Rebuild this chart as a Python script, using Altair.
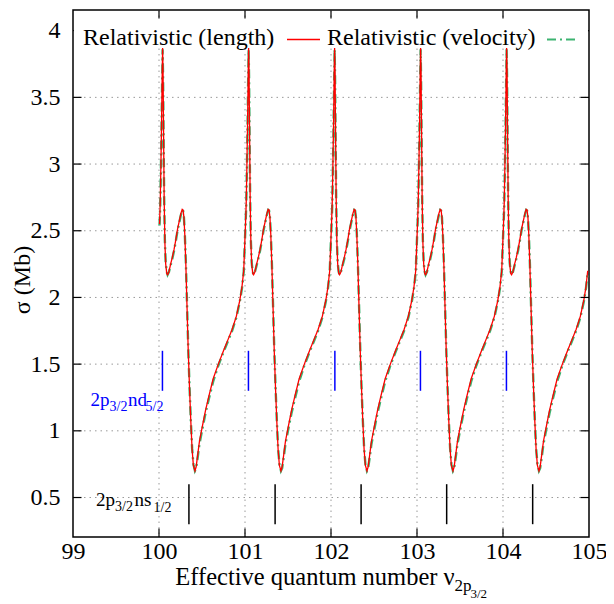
import altair as alt
import pandas as pd

FONT = "Liberation Serif"

# ---------------- data ----------------
# The resonance pattern repeats once per unit of the effective quantum number.
CYCLE_START = [100, 101, 102, 103, 104]
PHASE = [0.006, 0.014, 0.022, 0.030, 0.037, 0.042, 0.047, 0.053, 0.060, 0.068,
         0.078, 0.090, 0.100, 0.115, 0.135, 0.155, 0.175, 0.195, 0.215, 0.235,
         0.255, 0.270, 0.280, 0.290, 0.300, 0.312, 0.325, 0.340, 0.355, 0.370,
         0.385, 0.400, 0.418, 0.432, 0.450, 0.470, 0.500, 0.540, 0.580, 0.630,
         0.690, 0.750, 0.800, 0.850, 0.900, 0.940, 0.965, 0.985]
SIGMA_LENGTH = [2.55, 2.70, 2.98, 3.32, 3.66, 3.87, 3.68, 3.25, 2.75, 2.42,
                2.25, 2.18, 2.17, 2.19, 2.25, 2.30, 2.36, 2.43, 2.51, 2.57,
                2.63, 2.66, 2.655, 2.60, 2.47, 2.25, 1.95, 1.60, 1.32, 1.07,
                0.86, 0.74, 0.70, 0.73, 0.82, 0.92, 1.02, 1.15, 1.26, 1.39,
                1.50, 1.60, 1.68, 1.76, 1.86, 1.98, 2.08, 2.20]
SIGMA_VELOCITY = [2.54, 2.68, 2.96, 3.30, 3.64, 3.86, 3.67, 3.24, 2.75, 2.43,
                  2.26, 2.19, 2.17, 2.19, 2.24, 2.29, 2.35, 2.42, 2.50, 2.56,
                  2.62, 2.655, 2.65, 2.60, 2.48, 2.27, 1.97, 1.62, 1.33, 1.08,
                  0.87, 0.75, 0.70, 0.72, 0.80, 0.90, 1.00, 1.13, 1.24, 1.37,
                  1.49, 1.59, 1.67, 1.75, 1.85, 1.97, 2.07, 2.19]

ND52_POS = [100.04, 101.04, 102.045, 103.04, 104.04]   # blue 2p3/2 nd5/2 markers
ND52_SPAN = [1.30, 1.60]
NS12_POS = [100.348, 101.35, 102.35, 103.345, 104.345]  # black 2p3/2 ns1/2 markers
NS12_SPAN = [0.30, 0.60]

X_TICKS = [99, 100, 101, 102, 103, 104, 105]
Y_TICKS = [0.5, 1, 1.5, 2, 2.5, 3, 3.5, 4]
X_GRID = [100, 101, 102, 103, 104]
Y_GRID = [0.5, 1, 1.5, 2, 2.5, 3, 3.5, 4]
Y_DOMAIN = [0.204, 4.155]
X_DOMAIN = [99, 105]

# ---------------- tables ----------------
rows = []
for n in CYCLE_START:
    for p, sl, sv in zip(PHASE, SIGMA_LENGTH, SIGMA_VELOCITY):
        rows.append({"nu": n + p, "length": sl, "velocity": sv})
curve = pd.DataFrame(rows)

nd = pd.DataFrame({"nu": ND52_POS, "lo": ND52_SPAN[0], "hi": ND52_SPAN[1]})
ns = pd.DataFrame({"nu": NS12_POS, "lo": NS12_SPAN[0], "hi": NS12_SPAN[1]})
xg = pd.DataFrame({"nu": X_GRID})
yg = pd.DataFrame({"s": Y_GRID})
ONE = pd.DataFrame({"k": [0]})

W, H = 516, 527
xs = alt.Scale(domain=X_DOMAIN, nice=False, zero=False)
ys = alt.Scale(domain=Y_DOMAIN, nice=False, zero=False)

X_AXIS = alt.Axis(values=X_TICKS, format="d", title=None, grid=False, ticks=False,
                  tickSize=0, domain=False, labelFont=FONT, labelFontSize=24,
                  labelColor="black", labelPadding=21, labelBaseline="alphabetic",
                  labelFlush=False, labelOverlap=False)
Y_AXIS = alt.Axis(values=Y_TICKS, format="~g", title=None, grid=False, ticks=False,
                  tickSize=0, domain=False, labelFont=FONT, labelFontSize=24,
                  labelColor="black", labelPadding=13, labelFlush=False,
                  labelOverlap=False)


def X(field):
    return alt.X(field, scale=xs, axis=X_AXIS)


def Y(field):
    return alt.Y(field, scale=ys, axis=Y_AXIS)


GRID_STYLE = dict(color="#9a9a9a", strokeWidth=1, strokeDash=[1.5, 4])

grid_x = alt.Chart(xg).mark_rule(**GRID_STYLE).encode(
    x=X("nu:Q"), y=alt.value(0), y2=alt.value(H))
grid_y = alt.Chart(yg).mark_rule(**GRID_STYLE).encode(
    y=Y("s:Q"), x=alt.value(0), x2=alt.value(W))

vel = alt.Chart(curve).mark_line(color="#3cb371", strokeWidth=2.4,
                                 strokeDash=[9, 4, 2, 4], clip=True).encode(
    x=X("nu:Q"), y=Y("velocity:Q"))
leng = alt.Chart(curve).mark_line(color="#ff0000", strokeWidth=1.3, clip=True).encode(
    x=X("nu:Q"), y=Y("length:Q"))

nd_rule = alt.Chart(nd).mark_rule(color="blue", strokeWidth=1.5).encode(
    x=X("nu:Q"), y=Y("lo:Q"), y2="hi:Q")
ns_rule = alt.Chart(ns).mark_rule(color="black", strokeWidth=1.5).encode(
    x=X("nu:Q"), y=Y("lo:Q"), y2="hi:Q")

TK = 8.5
TICK_STYLE = dict(color="black", strokeWidth=1.2)
tick_bottom = alt.Chart(xg).mark_rule(**TICK_STYLE).encode(
    x=X("nu:Q"), y=alt.value(H - TK), y2=alt.value(H))
tick_top = alt.Chart(xg).mark_rule(**TICK_STYLE).encode(
    x=X("nu:Q"), y=alt.value(0), y2=alt.value(TK))
tick_left = alt.Chart(yg).mark_rule(**TICK_STYLE).encode(
    y=Y("s:Q"), x=alt.value(0), x2=alt.value(TK))
tick_right = alt.Chart(yg).mark_rule(**TICK_STYLE).encode(
    y=Y("s:Q"), x=alt.value(W - TK), x2=alt.value(W))

# opaque key box
key_box = alt.Chart(ONE).mark_rect(color="white").encode(
    x=alt.value(1), x2=alt.value(W - 1), y=alt.value(9), y2=alt.value(37))


def txt(s, x, y, size=24, color="black", align="left", baseline="alphabetic", angle=0):
    return alt.Chart(ONE).mark_text(font=FONT, fontSize=size, color=color, align=align,
                                    baseline=baseline, angle=angle).encode(
        x=alt.value(x), y=alt.value(y), text=alt.value(s))


def sample(x0, x1, y, color, width, dash=None):
    kw = dict(color=color, strokeWidth=width)
    if dash:
        kw["strokeDash"] = dash
    return alt.Chart(ONE).mark_rule(**kw).encode(
        x=alt.value(x0), x2=alt.value(x1), y=alt.value(y))


legend = [
    txt("Relativistic (length)", 10, 35),
    sample(214, 247, 29.5, "#ff0000", 1.5),
    txt("Relativistic (velocity)", 254, 35),
    sample(474, 506, 29.5, "#3cb371", 2, [9, 4, 2, 4]),
]

labels = [
    # blue 2p3/2 nd5/2
    txt("2p", 17.5, 396, 19, "blue"),
    txt("3/2", 36.5, 400.5, 14, "blue"),
    txt("nd", 55, 396, 19, "blue"),
    txt("5/2", 72.5, 400.5, 14, "blue"),
    # black 2p3/2 ns1/2
    txt("2p", 23, 495.7, 19),
    txt("3/2", 42, 501, 14),
    txt("ns", 61.5, 495.7, 19),
    txt("1/2", 80.5, 501.5, 14),
    # x title
    txt("Effective quantum number \u03bd", 102.3, 575, 24.5),
    txt("2p", 381.5, 581, 17),
    txt("3/2", 397.5, 587.5, 13),
    # y title
    txt("\u03c3 (Mb)", -50.5, 270, 24, align="center", baseline="middle", angle=270),
]

chart = alt.layer(
    grid_x, grid_y, vel, leng, nd_rule, ns_rule,
    tick_bottom, tick_top, tick_left, tick_right,
    key_box, *legend, *labels,
).properties(
    width=W, height=H,
    padding={"left": 65, "top": 2, "right": 17, "bottom": 62},
    autosize=alt.AutoSizeParams(type="none"),
).configure_view(stroke="black", strokeWidth=1.5)

chart.save("out.html", embed_options={"renderer": "svg", "actions": False})
